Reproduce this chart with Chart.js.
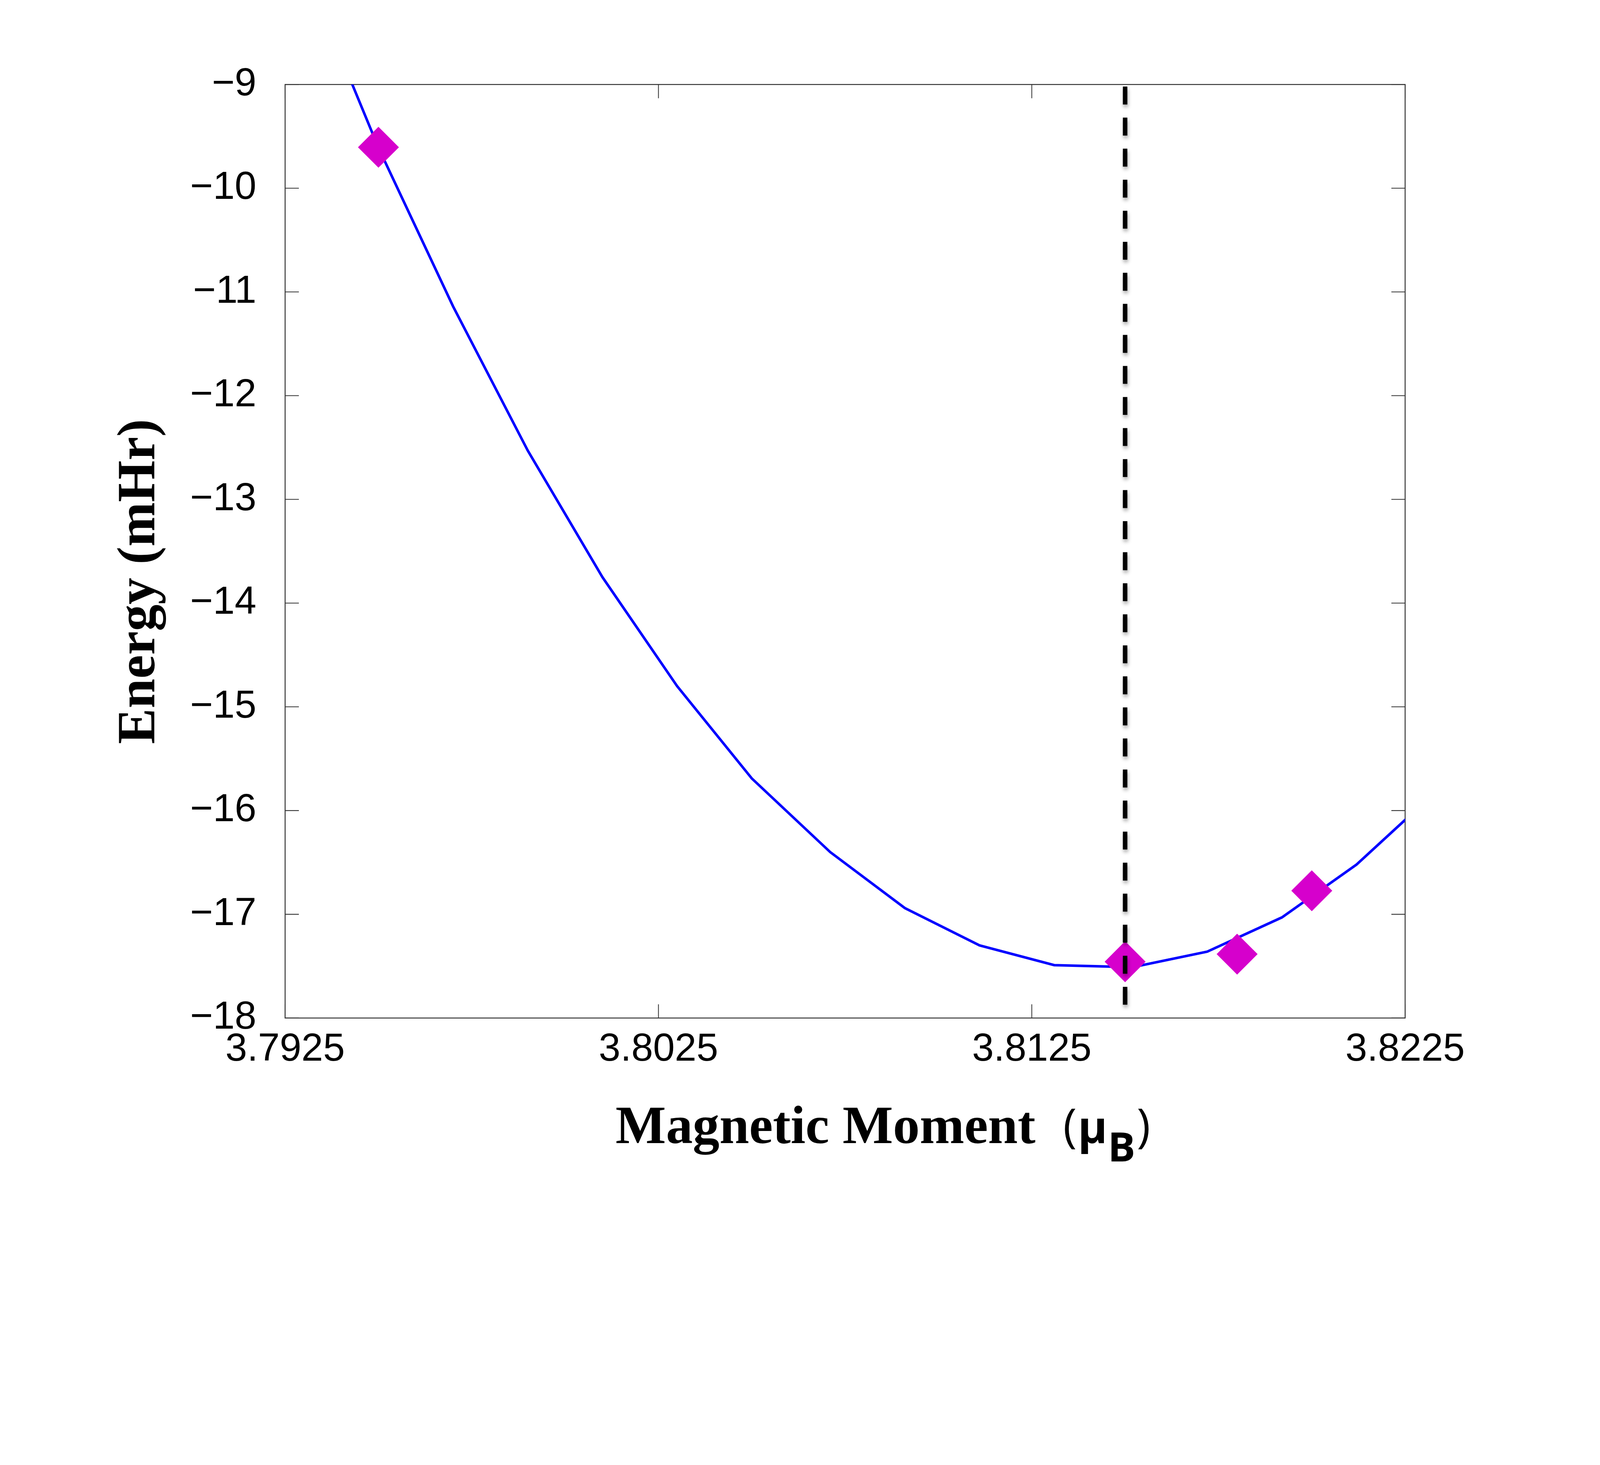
<!DOCTYPE html>
<html>
<head>
<meta charset="utf-8">
<script src="https://cdn.jsdelivr.net/npm/chart.js@4/dist/chart.umd.min.js"></script>
<style>
  html, body { margin: 0; padding: 0; background: #fff; overflow: hidden; }
  #wrap { position: relative; }
</style>
</head>
<body>
<div id="wrap"><canvas id="chart1"></canvas></div>
<script>
// fitted energy curve (blue line)
var curve_x = [3.7943, 3.7950, 3.7970, 3.7990, 3.8010, 3.8030, 3.8050, 3.8071, 3.8091, 3.8111, 3.8131, 3.8152, 3.8172, 3.8192, 3.8212, 3.8225]
var curve_y = [-9.00, -9.61, -11.14, -12.53, -13.75, -14.80, -15.69, -16.40, -16.94, -17.30, -17.49, -17.51, -17.36, -17.03, -16.52, -16.09]

// calculated points (magenta diamonds)
var dots_x = [3.7950, 3.8150, 3.8180, 3.8200]
var dots_y = [-9.605, -17.457, -17.384, -16.773]

// position of the minimum (dashed line)
var min_x = [3.8150, 3.8150]
var min_y = [-9.02, -17.90]

var x_ticks = [3.7925, 3.8025, 3.8125, 3.8225]
var y_ticks = [-18, -17, -16, -15, -14, -13, -12, -11, -10, -9]

// the layout below is worked out for a 5000 x 3750 picture; k scales it to the window
var k = Math.min(window.innerWidth / 5000, window.innerHeight / 3750);
function s(v) { return v * k; }

var wrap = document.getElementById('wrap');
wrap.style.width = s(5000) + 'px';
wrap.style.height = s(3750) + 'px';

function pts(xs, ys) {
    return xs.map(function (v, i) { return { x: v, y: ys[i] }; });
}

// box round the plot with inward ticks on all four sides
var frame = {
    id: 'frame',
    beforeDatasetsDraw: function (chart) {
        var ctx = chart.ctx, a = chart.chartArea, sx = chart.scales.x, sy = chart.scales.y;
        var len = s(43);
        ctx.save();
        ctx.strokeStyle = '#333';
        ctx.lineWidth = s(3);
        ctx.strokeRect(a.left, a.top, a.right - a.left, a.bottom - a.top);
        ctx.lineWidth = s(2.5);
        ctx.beginPath();
        sx.ticks.forEach(function (t) {
            var p = sx.getPixelForValue(t.value);
            ctx.moveTo(p, a.bottom); ctx.lineTo(p, a.bottom - len);
            ctx.moveTo(p, a.top); ctx.lineTo(p, a.top + len);
        });
        sy.ticks.forEach(function (t) {
            var p = sy.getPixelForValue(t.value);
            ctx.moveTo(a.left, p); ctx.lineTo(a.left + len, p);
            ctx.moveTo(a.right, p); ctx.lineTo(a.right - len, p);
        });
        ctx.stroke();
        ctx.restore();
    }
};

// soft shadow under the dashed line
var shadow = {
    id: 'shadow',
    beforeDatasetDraw: function (chart, args) {
        if (args.index !== 2) return;
        var ctx = chart.ctx;
        ctx.save();
        ctx.shadowColor = 'rgba(0,0,0,0.35)';
        ctx.shadowBlur = s(12);
        ctx.shadowOffsetX = s(2);
        ctx.shadowOffsetY = s(8);
    },
    afterDatasetDraw: function (chart, args) {
        if (args.index !== 2) return;
        chart.ctx.restore();
    }
};

// place text so that its ink starts at inkLeft
function inkText(ctx, text, font, inkLeft, base) {
    ctx.font = font;
    var m = ctx.measureText(text);
    ctx.fillText(text, s(inkLeft) + m.actualBoundingBoxLeft, s(base));
}

var titles = {
    id: 'titles',
    afterDraw: function (chart) {
        var ctx = chart.ctx;
        ctx.save();
        ctx.fillStyle = '#000';
        ctx.textBaseline = 'alphabetic';
        ctx.textAlign = 'left';
        var serif = "'Liberation Serif', 'Times New Roman', serif";
        var sans = "'Open Sans', 'Noto Sans', sans-serif";
        inkText(ctx, 'Magnetic Moment', 'bold ' + s(167) + 'px ' + serif, 1926, 3572);
        inkText(ctx, '(', s(145) + 'px ' + sans, 3327, 3568);
        inkText(ctx, 'μ', 'bold ' + s(140) + 'px ' + sans, 3378, 3572);
        inkText(ctx, 'B', 'bold ' + s(128) + 'px ' + sans, 3473, 3629);
        inkText(ctx, ')', s(145) + 'px ' + sans, 3556, 3568);

        ctx.translate(s(482), s(1817));
        ctx.rotate(-Math.PI / 2);
        ctx.textAlign = 'center';
        ctx.font = 'bold ' + s(167) + 'px ' + serif;
        ctx.fillText('Energy (mHr)', 0, 0);
        ctx.restore();
    }
};

var tickFont = { family: "'Liberation Sans', Arial, Helvetica, sans-serif", size: s(122) };

var chart1 = new Chart(
    document.getElementById('chart1'),
    {
        type: 'scatter',
        data: {
            datasets: [
                {
                    label: 'fit',
                    data: pts(curve_x, curve_y),
                    showLine: true,
                    borderColor: '#0000ff',
                    borderWidth: s(8),
                    borderCapStyle: 'round',
                    pointRadius: 0,
                    order: 3
                },
                {
                    label: 'points',
                    data: pts(dots_x, dots_y),
                    showLine: false,
                    pointStyle: 'rectRot',
                    pointRadius: s(64),
                    pointHoverRadius: s(64),
                    backgroundColor: '#d600cc',
                    borderColor: '#d600cc',
                    borderWidth: 0,
                    order: 2
                },
                {
                    label: 'minimum',
                    data: pts(min_x, min_y),
                    showLine: true,
                    borderColor: '#000',
                    borderWidth: s(14),
                    borderDash: [s(56), s(41)],
                    pointRadius: 0,
                    clip: false,
                    order: 1
                }
            ]
        },
        options: {
            responsive: true,
            maintainAspectRatio: false,
            animation: false,
            events: [],
            layout: { padding: { left: 0, top: s(264), right: s(609), bottom: 0 } },
            plugins: {
                legend: { display: false },
                tooltip: { enabled: false }
            },
            scales: {
                x: {
                    type: 'linear',
                    min: 3.7925,
                    max: 3.8225,
                    grid: { display: false },
                    border: { display: false },
                    afterBuildTicks: function (scale) {
                        scale.ticks = x_ticks.map(function (v) { return { value: v }; });
                    },
                    afterFit: function (scale) { scale.height = s(569); },
                    ticks: {
                        autoSkip: false,
                        maxRotation: 0,
                        padding: s(16),
                        color: '#000',
                        font: tickFont,
                        callback: function (v) { return Number(v).toFixed(4); }
                    }
                },
                y: {
                    type: 'linear',
                    min: -18,
                    max: -9,
                    grid: { display: false },
                    border: { display: false },
                    afterBuildTicks: function (scale) {
                        scale.ticks = y_ticks.map(function (v) { return { value: v }; });
                    },
                    afterFit: function (scale) { scale.width = s(891); },
                    ticks: {
                        autoSkip: false,
                        padding: s(80),
                        color: '#000',
                        font: tickFont,
                        callback: function (v) { return '\u2212' + Math.abs(v); }
                    }
                }
            }
        },
        plugins: [frame, shadow, titles]
    }
);
</script>
</body>
</html>
